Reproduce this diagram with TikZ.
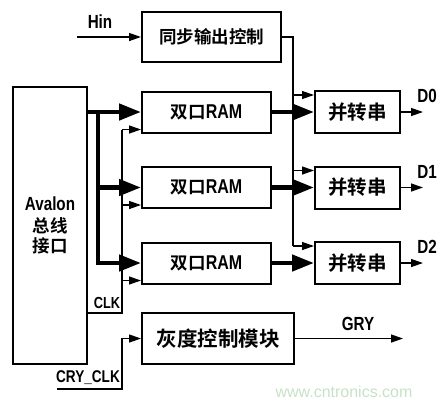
\documentclass[tikz,border=0pt]{standalone}
\usepackage{fontspec}
\setmainfont{Noto Sans CJK SC}[BoldFont={Noto Sans CJK SC Bold}]
\newfontfamily\latin[FakeStretch=0.8]{Liberation Sans}
\newfontfamily\wmfont{Liberation Sans}
\usetikzlibrary{arrows.meta,calc}
\definecolor{wmark}{RGB}{198,226,198}

\tikzset{
  block/.style={draw, line width=2pt, inner sep=0pt, font=\bfseries\fontsize{17.5pt}{20pt}\selectfont},
  thinline/.style={line width=1.3pt},
  bigbus/.style={line width=4.5pt},
  thinarrow/.style={thinline, -{Triangle[length=12pt,width=8pt]}},
  busarrow/.style={bigbus, -{Triangle[length=22pt,width=16pt]}},
  lbl/.style={inner sep=0pt, font=\latin\bfseries\fontsize{19pt}{19pt}\selectfont},
}

\begin{document}
\begin{tikzpicture}[x=1pt, y=-1pt]
            \useasboundingbox (0,0) rectangle (446,408);
            % Nodes
            \node[block, minimum width=74pt, minimum height=277pt, align=center] (avalon) at (50,225.5) {{\latin\fontsize{19pt}{20pt}\selectfont Avalon}\\[2pt]总线\\接口};
            \node[block, minimum width=139pt, minimum height=50pt] (sync) at (211.5,37) {同步输出控制};
            \foreach \i/\y in {1/112,2/187.5,3/263} {
              \node[block, minimum width=129pt, minimum height=41pt] (ram\i) at (206.5,\y) {双口{\latin\fontsize{20pt}{20pt}\selectfont RAM}};
              \node[block, minimum width=85pt, minimum height=42pt, font=\bfseries\fontsize{19.5pt}{20pt}\selectfont] (ps\i) at (357.5,\y) {并转串};
            }
            \node[block, minimum width=152pt, minimum height=51pt, font=\bfseries\fontsize{20.5pt}{22pt}\selectfont] (gray) at (218,338.5) {灰度控制模块};
            \coordinate (hin) at (77,37);
            \coordinate (busx) at (98,0);
            \coordinate (clkx) at (122,0);
            \coordinate (syncx) at (293,0);
            \coordinate (clkin) at (87,313);
            \coordinate (cryclk) at (57,389);
          % Arrows
          \draw[thinarrow] (hin) -- (sync.west);
          \draw[busarrow] (avalon.east |- ram1.west) -- (ram1.west);
          \draw[busarrow] (busx |- ram1.west) -- (busx |- ram3.west) -- (ram3.west);
          \draw[busarrow] (busx |- ram2.west) -- (ram2.west);
          \draw[thinline] (clkin) -| ($(ram1.south west -| clkx)+(0,-4)$);
          \draw[thinline] (sync.east) -| ($(ps3.north west -| syncx)+(0,5)$);
          \foreach \i/\d in {1/0,2/1,3/2} {
            \draw[thinarrow] ($(ram\i.south west -| clkx)+(0,-4)$) -- ($(ram\i.south west)+(0,-4)$);
            \draw[thinarrow] ($(ps\i.north west -| syncx)+(0,5)$) -- ($(ps\i.north west)+(0,5)$);
            \draw[busarrow] (ram\i.east) -- (ps\i.west);
            \draw[thinarrow] (ps\i.east) -- ++(22,0) coordinate (out\i);
            \node[lbl] (dlbl\i) at ($(out\i)+(4,-16)$) {D\d};
          }
          \draw[thinarrow] (cryclk) -| (clkx |- gray.west) -- (gray.west);
          \draw[thinarrow] (gray.east) -- ++(108,0) coordinate (gryout);
          % Labels
          \node[lbl] (hinlbl) at (100,22) {Hin};
          \node[lbl, font=\latin\bfseries\fontsize{16pt}{16pt}\selectfont] (clklbl) at (107,303) {CLK};
          \node[lbl, font=\latin\bfseries\fontsize{17pt}{17pt}\selectfont] (crylbl) at (88,378) {CRY\_CLK};
          \node[lbl] (grylbl) at (358,324) {GRY};
          \node[inner sep=0pt, text=wmark, font=\wmfont\fontsize{16pt}{16pt}\selectfont] (wm) at (344,392) {www.cntronics.com};
        \end{tikzpicture}
\end{document}
